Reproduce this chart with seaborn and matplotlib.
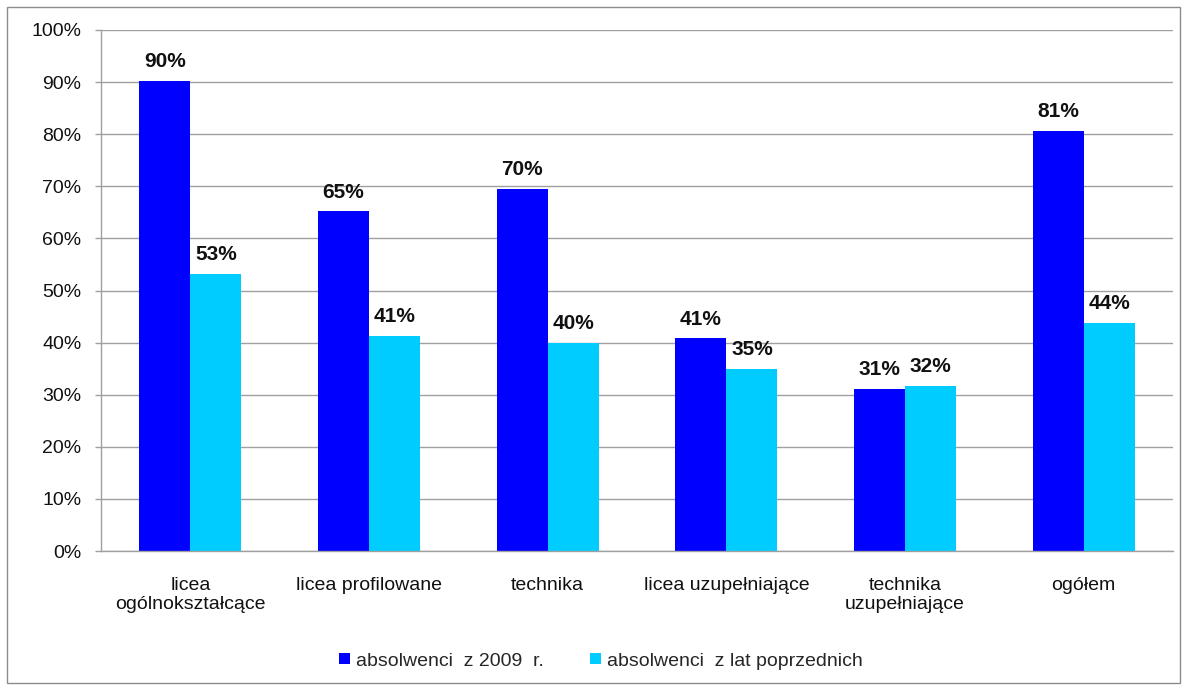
import matplotlib
matplotlib.use("Agg")
import matplotlib.pyplot as plt
import matplotlib.patches as mpatches
from matplotlib.ticker import FixedLocator, PercentFormatter
import seaborn as sns
import pandas as pd

categories = ["licea\nogólnokształcące", "licea profilowane", "technika",
              "licea uzupełniające", "technika\nuzupełniające", "ogółem"]
series_names = ["absolwenci  z 2009  r.", "absolwenci  z lat poprzednich"]
values_2009 = [90.2, 65.2, 69.5, 40.8, 31.1, 80.6]
values_prev = [53.2, 41.3, 40.0, 35.0, 31.7, 43.8]
labels_2009 = ["90%", "65%", "70%", "41%", "31%", "81%"]
labels_prev = ["53%", "41%", "40%", "35%", "32%", "44%"]
colors = ["#0000FF", "#00CCFF"]

df = pd.DataFrame({
    "kategoria": categories * 2,
    "seria": [series_names[0]] * 6 + [series_names[1]] * 6,
    "wartosc": values_2009 + values_prev,
})

sns.set_style("white")
plt.rcParams["font.family"] = ["Liberation Sans", "DejaVu Sans"]

fig = plt.figure(figsize=(11.84, 6.86), dpi=100)
ax = fig.add_axes([101/1184, 1 - 551/686, (1173-101)/1184, (551-30)/686])

sns.barplot(data=df, x="kategoria", y="wartosc", hue="seria",
            palette=colors, width=0.572, saturation=1, ax=ax,
            edgecolor="none", linewidth=0)

for cont, labs in zip(ax.containers, [labels_2009, labels_prev]):
    ax.bar_label(cont, labels=labs, padding=7, fontsize=15, fontweight="bold",
                 color="#111111")

ax.set_ylim(0, 100)
ax.set_xlim(-0.5, 5.5)
ax.yaxis.set_major_locator(FixedLocator(range(0, 101, 10)))
ax.yaxis.set_major_formatter(PercentFormatter(decimals=0))
ax.set_axisbelow(True)
ax.grid(axis="y", color="#A0A0A0", linewidth=1)
ax.grid(axis="x", visible=False)
ax.set_xlabel("")
ax.set_ylabel("")

ax.xaxis.set_minor_locator(FixedLocator([i - 0.5 for i in range(7)]))
ax.tick_params(axis="x", which="major", length=0, pad=19, labelsize=14,
               labelcolor="#111111")
ax.tick_params(axis="x", which="minor", length=5, width=1, color="#A0A0A0",
               direction="out")
ax.tick_params(axis="y", length=4, width=1, color="#A0A0A0", direction="out",
               pad=10, labelsize=14, labelcolor="#111111")
ax.tick_params(left=True, bottom=True)
for lab in ax.get_xticklabels():
    lab.set_linespacing(1.1)

for side in ["top", "right"]:
    ax.spines[side].set_visible(False)
for side in ["left", "bottom"]:
    ax.spines[side].set_color("#A0A0A0")
    ax.spines[side].set_linewidth(1)

sns.move_legend(ax, "center", bbox_to_anchor=(601/1184, 1 - 661/686),
                bbox_transform=fig.transFigure, ncol=2, frameon=False,
                title=None, fontsize=14, handlelength=0.55, handleheight=0.55,
                handletextpad=0.3, columnspacing=2.4)

fig.patches.append(mpatches.Rectangle((7/1184, 3/686), 1173/1184, 676/686,
                                      transform=fig.transFigure, fill=False,
                                      edgecolor="#8C8C8C", linewidth=1))

fig.savefig("out.png", dpi=100)
